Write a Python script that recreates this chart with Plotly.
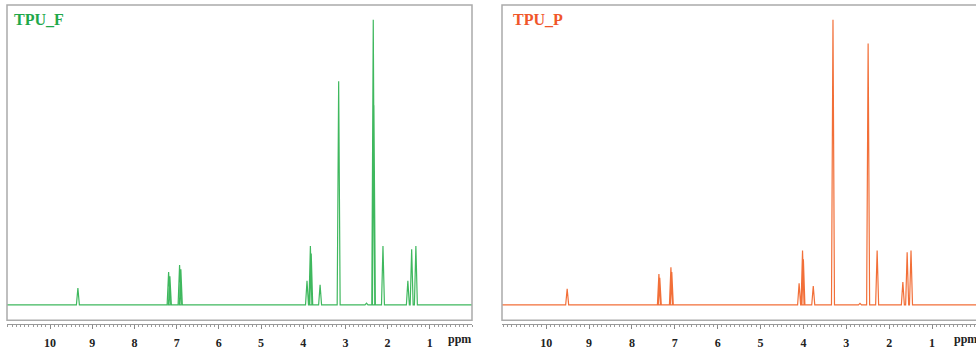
import plotly.graph_objects as go

# Peak positions (ppm) and heights (% of the tallest line in each spectrum)
tpu_f_ppm = [9.34, 7.19, 7.16, 6.93, 6.90, 3.91, 3.83, 3.81, 3.60, 3.16,
             2.50, 2.34, 2.325, 2.11, 1.52, 1.43, 1.33]
tpu_f_int = [5.9, 11.5, 10.0, 14.0, 12.5, 8.4, 20.6, 18.0, 7.0, 78.4,
             0.6, 100.0, 70.0, 20.6, 8.4, 19.5, 20.6]

tpu_p_ppm = [9.51, 7.37, 7.35, 7.09, 7.07, 4.10, 4.02, 4.00, 3.77, 3.31,
             2.68, 2.49, 2.28, 1.68, 1.58, 1.49]
tpu_p_int = [5.6, 10.8, 9.5, 13.2, 11.5, 7.6, 19.1, 16.0, 6.6, 100.0,
             0.5, 91.7, 19.1, 8.0, 18.4, 19.1]

tick_vals = [1, 2, 3, 4, 5, 6, 7, 8, 9, 10]
panel_names = ["TPU_F", "TPU_P"]

LINE_GREEN = "#3fb85e"
TITLE_GREEN = "#1fa84a"
LINE_ORANGE = "#f26f38"
TITLE_ORANGE = "#f0562a"
BOX = "#ababab"
SERIF = "Liberation Serif"
HALF_BASE = 0.035  # half width of each line foot, ppm


def spectrum_line(ppm, inten, x_start, x_end):
    """Baseline with one narrow spike per peak, ordered high ppm -> low ppm."""
    xs, ys = [x_start], [0]
    for p, h in sorted(zip(ppm, inten), key=lambda t: -t[0]):
        xs += [p + HALF_BASE, p, p - HALF_BASE]
        ys += [0, h, 0]
    xs.append(x_end)
    ys.append(0)
    return xs, ys


left_range = [11.02, 0.0]
right_range = [11.03, -0.026]
y_dom = [1 - 323 / 350, 1 - 5 / 350]
axis_pos = 1 - 327 / 350

fig = go.Figure()

xf, yf = spectrum_line(tpu_f_ppm, tpu_f_int, *left_range)
fig.add_trace(go.Scatter(x=xf, y=yf, mode="lines", xaxis="x", yaxis="y",
                         line=dict(color=LINE_GREEN, width=1.2), hoverinfo="skip"))
xp, yp = spectrum_line(tpu_p_ppm, tpu_p_int, *right_range)
fig.add_trace(go.Scatter(x=xp, y=yp, mode="lines", xaxis="x2", yaxis="y2",
                         line=dict(color=LINE_ORANGE, width=1.2), hoverinfo="skip"))

xaxis_common = dict(
    anchor="free", position=axis_pos,
    showline=True, linecolor="#999999", linewidth=1,
    showgrid=False, zeroline=False,
    tickmode="array", tickvals=tick_vals,
    ticks="outside", ticklen=4, tickcolor="#888888", tickwidth=1,
    minor=dict(dtick=0.1, tick0=0, ticks="outside", ticklen=2,
               tickcolor="#999999", showgrid=False),
    tickfont=dict(family=SERIF, size=12, color="#222222", weight="bold"),
    ticklabelstandoff=3,
)
yaxis_common = dict(visible=False, zeroline=False, showgrid=False,
                    range=[-5.4, 105.2], domain=y_dom, fixedrange=True)

fig.update_layout(
    width=976, height=350,
    margin=dict(l=0, r=0, t=0, b=0),
    paper_bgcolor="white", plot_bgcolor="white",
    showlegend=False,
    xaxis=dict(domain=[7 / 976, 472 / 976], range=left_range, **xaxis_common),
    xaxis2=dict(domain=[502 / 976, 1.0], range=right_range, **xaxis_common),
    yaxis=dict(anchor="x", **yaxis_common),
    yaxis2=dict(anchor="x2", **yaxis_common),
)

# frames round each spectrum
fig.add_shape(type="rect", xref="x domain", yref="y domain", x0=0, x1=1, y0=0, y1=1,
              line=dict(color=BOX, width=1.5))
fig.add_shape(type="rect", xref="x2 domain", yref="y2 domain", x0=0, x1=1.05, y0=0, y1=1,
              line=dict(color=BOX, width=1.5))

# panel titles
for name, xpos, col in [(panel_names[0], 12 / 976, TITLE_GREEN),
                        (panel_names[1], 511 / 976, TITLE_ORANGE)]:
    fig.add_annotation(text=name, x=xpos, y=1 - 9 / 350, xref="paper", yref="paper",
                       xanchor="left", yanchor="top", showarrow=False,
                       font=dict(family=SERIF, size=16, color=col, weight="bold"))

# "ppm" unit labels
for xr, xv in [("x", 0.29), ("x2", 0.23)]:
    fig.add_annotation(text="ppm", x=xv, y=1 - 342 / 350, xref=xr, yref="paper",
                       xanchor="center", yanchor="middle", showarrow=False,
                       font=dict(family=SERIF, size=12, color="#222222", weight="bold"))

fig.write_html("out.html", config={"displayModeBar": False},
               post_script="document.body.style.margin='0px';")
